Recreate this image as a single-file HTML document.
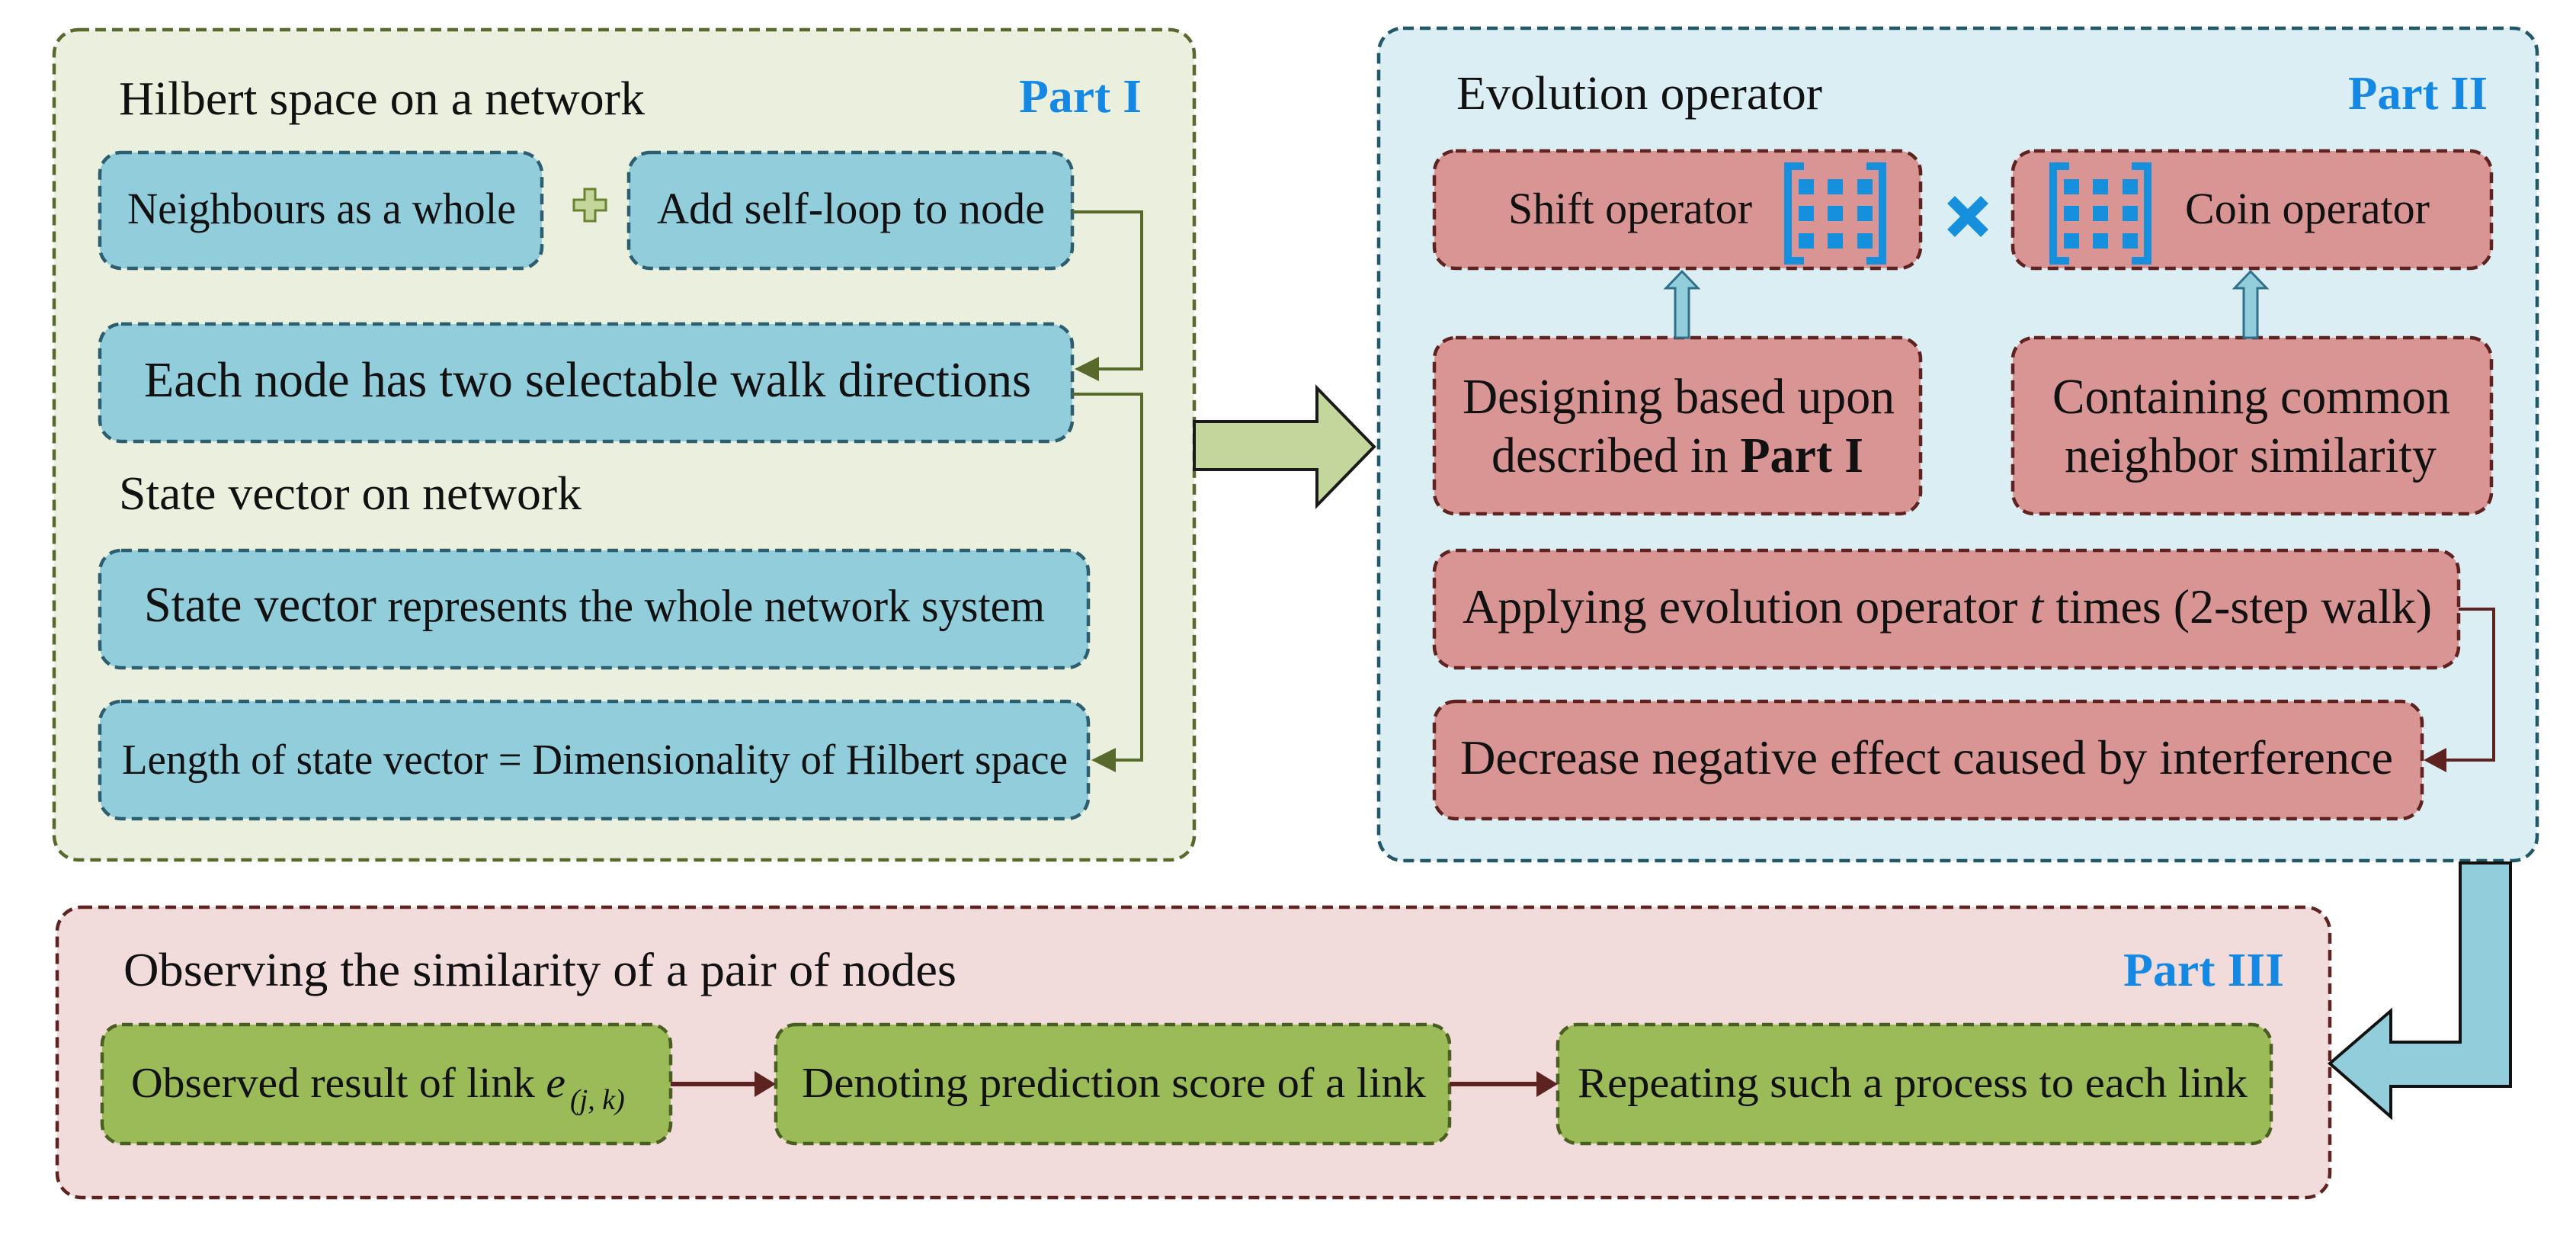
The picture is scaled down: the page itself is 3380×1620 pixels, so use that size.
<!DOCTYPE html>
<html><head><meta charset="utf-8"><style>html,body{margin:0;padding:0;background:#fff}svg{display:block}</style></head>
<body>
<svg width="3380" height="1620" viewBox="0 0 3380 1620" xmlns="http://www.w3.org/2000/svg" font-family="Liberation Serif, serif">
<defs>
<g id="mat" fill="#1690dc">
<path d="M26 0 H0 V134 H26 V124 H10 V10 H26 Z"/>
<path d="M108 0 H134 V134 H108 V124 H124 V10 H108 Z"/>
<rect x="19" y="22" width="20" height="20"/><rect x="57" y="22" width="20" height="20"/><rect x="96" y="22" width="20" height="20"/>
<rect x="19" y="57" width="20" height="20"/><rect x="57" y="57" width="20" height="20"/><rect x="96" y="57" width="20" height="20"/>
<rect x="19" y="93" width="20" height="20"/><rect x="57" y="93" width="20" height="20"/><rect x="96" y="93" width="20" height="20"/>
</g>
</defs>
<g stroke-dasharray="14 8" stroke-width="4.5">
<!-- Part I -->
<rect x="71" y="39" width="1496" height="1089" rx="32" fill="#ebf0de" stroke="#58692c"/>
<rect x="131" y="200" width="580" height="152" rx="28" fill="#92cddc" stroke="#2d5e70"/>
<rect x="825" y="200" width="582" height="152" rx="28" fill="#92cddc" stroke="#2d5e70"/>
<rect x="131" y="425" width="1276" height="154" rx="28" fill="#92cddc" stroke="#2d5e70"/>
<rect x="131" y="722" width="1297" height="154" rx="28" fill="#92cddc" stroke="#2d5e70"/>
<rect x="131" y="920" width="1297" height="154" rx="28" fill="#92cddc" stroke="#2d5e70"/>
<!-- Part II -->
<rect x="1809" y="37" width="1520" height="1092" rx="32" fill="#dbeef4" stroke="#215868"/>
<rect x="1882" y="198" width="638" height="154" rx="28" fill="#d99594" stroke="#5e2220"/>
<rect x="2641" y="198" width="628" height="154" rx="28" fill="#d99594" stroke="#5e2220"/>
<rect x="1882" y="443" width="638" height="231" rx="28" fill="#d99594" stroke="#5e2220"/>
<rect x="2641" y="443" width="628" height="231" rx="28" fill="#d99594" stroke="#5e2220"/>
<rect x="1882" y="722" width="1344" height="154" rx="28" fill="#d99594" stroke="#5e2220"/>
<rect x="1882" y="920" width="1296" height="154" rx="28" fill="#d99594" stroke="#5e2220"/>
<!-- Part III -->
<rect x="75" y="1190" width="2982" height="381" rx="32" fill="#f2dcdb" stroke="#5e2220"/>
<rect x="134" y="1344" width="746" height="156" rx="26" fill="#9bbb59" stroke="#4a5e22"/>
<rect x="1018" y="1344" width="884" height="156" rx="26" fill="#9bbb59" stroke="#4a5e22"/>
<rect x="2044" y="1344" width="936" height="156" rx="26" fill="#9bbb59" stroke="#4a5e22"/>
</g>
<!-- plus -->
<path d="M753 262 h14 v-14 h14 v14 h14 v14 h-14 v14 h-14 v-14 h-14 z" fill="#c3d69b" stroke="#6b8230" stroke-width="3"/>
<!-- Part I connectors -->
<g fill="none" stroke="#58692c" stroke-width="4">
<polyline points="1407,278 1498,278 1498,484 1440,484"/>
<polyline points="1407,517 1498,517 1498,997 1462,997"/>
</g>
<path d="M1410 484 L1442 468 L1442 500 Z" fill="#58692c"/>
<path d="M1432 997 L1464 981 L1464 1013 Z" fill="#58692c"/>
<!-- Part II connector -->
<polyline points="3226,799 3272,799 3272,997 3208,997" fill="none" stroke="#5e2220" stroke-width="4"/>
<path d="M3180 997 L3210 981 L3210 1013 Z" fill="#5e2220"/>
<!-- small up arrows -->
<path d="M2198 443 V378 H2186 L2207 356 L2228 378 H2216 V443 Z" fill="#92cddc" stroke="#31708a" stroke-width="3"/>
<path d="M2944 443 V378 H2932 L2953 356 L2974 378 H2962 V443 Z" fill="#92cddc" stroke="#31708a" stroke-width="3"/>
<!-- matrices and x -->
<use href="#mat" x="2341" y="213"/>
<use href="#mat" x="2689" y="213"/>
<path d="M2560 262 L2604 306 M2604 262 L2560 306" stroke="#1690dc" stroke-width="14"/>
<!-- big green arrow -->
<path d="M1567 553 H1728 V509 L1803 586 L1728 663 V616 H1567 Z" fill="#c3d69b" stroke="#1a1a1a" stroke-width="4"/>
<!-- big blue arrow -->
<path d="M3228 1132 H3294 V1425 H3137 V1465 L3057 1395 L3137 1326 V1367 H3228 Z" fill="#92cddc" stroke="#111" stroke-width="4"/>
<!-- Part III arrows -->
<g stroke="#5e2220" stroke-width="6"><line x1="880" y1="1422" x2="995" y2="1422"/><line x1="1902" y1="1422" x2="2020" y2="1422"/></g>
<path d="M1018 1422 L990 1405 L990 1439 Z M2044 1422 L2016 1405 L2016 1439 Z" fill="#5e2220"/>
<!-- text -->
<g fill="#111" lengthAdjust="spacingAndGlyphs">
<text x="156" y="150" font-size="62" textLength="690" lengthAdjust="spacingAndGlyphs">Hilbert space on a network</text>
<text x="167" y="293" font-size="58" textLength="510" lengthAdjust="spacingAndGlyphs">Neighbours as a whole</text>
<text x="862" y="293" font-size="58" textLength="509" lengthAdjust="spacingAndGlyphs">Add self-loop to node</text>
<text x="189" y="520" font-size="66" textLength="1164" lengthAdjust="spacingAndGlyphs">Each node has two selectable walk directions</text>
<text x="156" y="668" font-size="62" textLength="607" lengthAdjust="spacingAndGlyphs">State vector on network</text>
<text x="189" y="815" font-size="60" textLength="1182" lengthAdjust="spacingAndGlyphs"><tspan font-size="66">State vector</tspan> represents the whole network system</text>
<text x="160" y="1015" font-size="56" textLength="1241" lengthAdjust="spacingAndGlyphs">Length of state vector = Dimensionality of Hilbert space</text>
<text x="1911" y="143" font-size="62" textLength="480" lengthAdjust="spacingAndGlyphs">Evolution operator</text>
<text x="1979" y="293" font-size="58" textLength="320" lengthAdjust="spacingAndGlyphs">Shift operator</text>
<text x="2867" y="293" font-size="58" textLength="321" lengthAdjust="spacingAndGlyphs">Coin operator</text>
<text x="1919" y="542" font-size="66" textLength="567" lengthAdjust="spacingAndGlyphs">Designing based upon</text>
<text x="1957" y="619" font-size="66" textLength="488" lengthAdjust="spacingAndGlyphs">described in <tspan font-weight="bold">Part I</tspan></text>
<text x="2693" y="542" font-size="66" textLength="522" lengthAdjust="spacingAndGlyphs">Containing common</text>
<text x="2709" y="619" font-size="66" textLength="488" lengthAdjust="spacingAndGlyphs">neighbor similarity</text>
<text x="1919" y="817" font-size="64" textLength="1272" lengthAdjust="spacingAndGlyphs">Applying evolution operator <tspan font-style="italic">t</tspan> times (2-step walk)</text>
<text x="1916" y="1015" font-size="64" textLength="1224" lengthAdjust="spacingAndGlyphs">Decrease negative effect caused by interference</text>
<text x="162" y="1293" font-size="62" textLength="1093" lengthAdjust="spacingAndGlyphs">Observing the similarity of a pair of nodes</text>
<text x="172" y="1439" font-size="56" textLength="570" lengthAdjust="spacingAndGlyphs">Observed result of  link <tspan font-style="italic">e</tspan></text>
<text x="748" y="1455" font-size="38" font-style="italic">(j, k)</text>
<text x="1052" y="1439" font-size="56" textLength="819" lengthAdjust="spacingAndGlyphs">Denoting prediction score of a link</text>
<text x="2070" y="1439" font-size="56" textLength="879" lengthAdjust="spacingAndGlyphs">Repeating such a process to each link</text>
</g>
<g fill="#1588e4" font-weight="bold" font-size="62">
<text x="1337" y="147" textLength="161" lengthAdjust="spacingAndGlyphs">Part I</text>
<text x="3081" y="143" textLength="183" lengthAdjust="spacingAndGlyphs">Part II</text>
<text x="2786" y="1293" textLength="211" lengthAdjust="spacingAndGlyphs">Part III</text>
</g>
</svg>
</body></html>
